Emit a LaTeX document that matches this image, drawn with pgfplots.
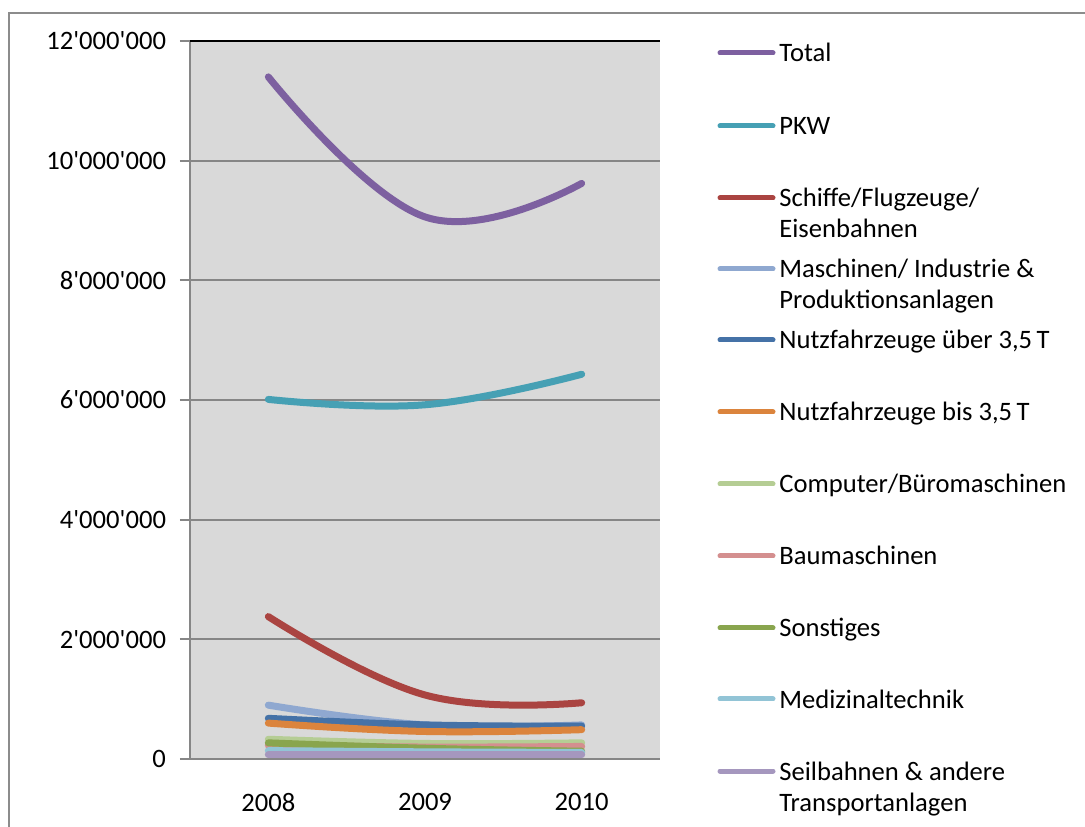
\documentclass[border=0pt]{standalone}
\usepackage{fontspec}
\setmainfont{Carlito}
\usepackage{pgfplots}
\pgfplotsset{compat=1.18}
\definecolor{plotbg}{RGB}{217,217,217}
\definecolor{gridc}{RGB}{134,134,134}
\definecolor{borderc}{RGB}{140,140,140}
\definecolor{cTotal}{RGB}{125,96,160}
\definecolor{cPKW}{RGB}{70,160,180}
\definecolor{cSchiffe}{RGB}{170,68,65}
\definecolor{cMasch}{RGB}{143,168,208}
\definecolor{cNueber}{RGB}{69,114,167}
\definecolor{cNbis}{RGB}{219,132,61}
\definecolor{cComp}{RGB}{181,205,148}
\definecolor{cBau}{RGB}{212,143,143}
\definecolor{cSonst}{RGB}{137,165,78}
\definecolor{cMed}{RGB}{146,196,214}
\definecolor{cSeil}{RGB}{165,151,190}
\newcommand\legentry[4]{%
  \draw[#2, line width=2.5bp, line cap=round] (265bp,#1bp) -- (291.5bp,#1bp);
  \node[anchor=base west, inner sep=0pt] at (294.5bp,#1bp-4.5bp) {#3};
  \node[anchor=base west, inner sep=0pt] at (294.5bp,#1bp-20bp) {#4};
}
\begin{document}
\begin{tikzpicture}[font=\fontsize{13.3bp}{16bp}\selectfont]
\path[use as bounding box] (-95bp,-34bp) rectangle (447.5bp,379.5bp);
\draw[borderc, line width=1bp] (-90.5bp,-40bp) -- (-90.5bp,373bp) -- (460bp,373bp);
\begin{axis}[
  at={(0,0)}, anchor=south west,
  scale only axis, width=235bp, height=359bp,
  xmin=-0.5, xmax=2.5, ymin=0, ymax=12000000,
  axis lines=left, axis line style={-, gridc, line width=1bp},
  axis background/.style={fill=plotbg},
  xtick={0,1,2}, xticklabels={2008,2009,2010},
  x tick style={draw=none},
  xticklabel style={yshift=-8.5bp},
  yticklabel style={xshift=-3.5bp},
  minor xtick={-0.5,0.5,1.5,2.5},
  minor tick length=4bp, major tick length=5bp,
  tick align=outside,
  tick style={gridc, line width=1bp},
  ytick={0,2000000,4000000,6000000,8000000,10000000},
  yticklabels={0,2\textquotesingle000\textquotesingle000,4\textquotesingle000\textquotesingle000,6\textquotesingle000\textquotesingle000,8\textquotesingle000\textquotesingle000,10\textquotesingle000\textquotesingle000},
  extra y ticks={12000000},
  extra y tick labels={12\textquotesingle000\textquotesingle000},
  extra y tick style={grid style={black, line width=1bp}},
  ymajorgrids, grid style={gridc, line width=1bp},
  scaled y ticks=false,
  every axis plot/.append style={line width=3.5bp, smooth, tension=0.7, no markers, line cap=round},
  clip=false,
]
\addplot[cTotal] coordinates {(0,11400000) (1,9060000) (2,9620000)};
\addplot[cPKW] coordinates {(0,6010000) (1,5920000) (2,6430000)};
\addplot[cSchiffe] coordinates {(0,2380000) (1,1070000) (2,940000)};
\addplot[cMasch] coordinates {(0,900000) (1,570000) (2,570000)};
\addplot[cNueber] coordinates {(0,680000) (1,570000) (2,550000)};
\addplot[cNbis] coordinates {(0,600000) (1,460000) (2,490000)};
\addplot[cComp] coordinates {(0,330000) (1,260000) (2,270000)};
\addplot[cBau] coordinates {(0,230000) (1,200000) (2,210000)};
\addplot[cSonst] coordinates {(0,270000) (1,180000) (2,130000)};
\addplot[cMed] coordinates {(0,140000) (1,120000) (2,110000)};
\addplot[cSeil] coordinates {(0,70000) (1,70000) (2,70000)};
\end{axis}
\legentry{353}{cTotal}{Total}{}
\legentry{316.5}{cPKW}{PKW}{}
\legentry{280.5}{cSchiffe}{Schiffe/Flugzeuge/}{Eisenbahnen}
\legentry{245}{cMasch}{Maschinen/ Industrie \&}{Produktionsanlagen}
\legentry{209.5}{cNueber}{Nutzfahrzeuge über 3,5\,T}{}
\legentry{173.5}{cNbis}{Nutzfahrzeuge bis 3,5\,T}{}
\legentry{137.5}{cComp}{Computer/Büromaschinen}{}
\legentry{101.5}{cBau}{Baumaschinen}{}
\legentry{65.5}{cSonst}{Sonstiges}{}
\legentry{30}{cMed}{Medizinaltechnik}{}
\legentry{-6}{cSeil}{Seilbahnen \& andere}{Transportanlagen}
\end{tikzpicture}
\end{document}
